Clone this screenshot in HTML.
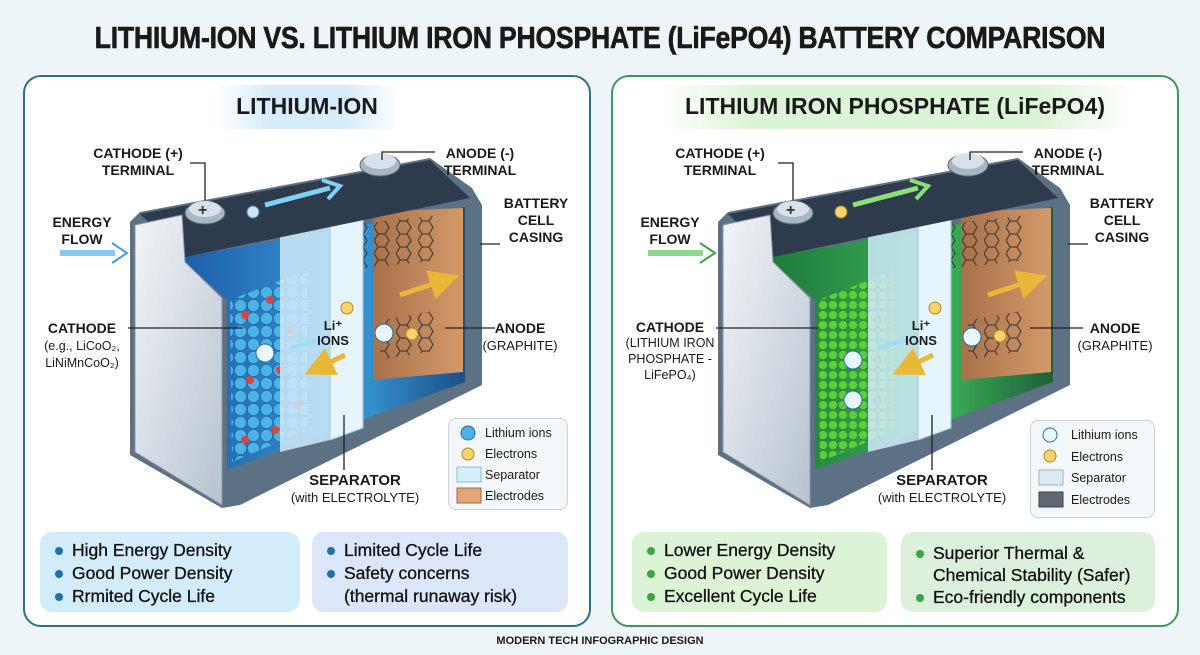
<!DOCTYPE html>
<html><head><meta charset="utf-8"><style>
*{margin:0;padding:0;box-sizing:border-box}
body{width:1200px;height:655px;background:#eef5f8;font-family:"Liberation Sans",sans-serif;position:relative;overflow:hidden;color:#1a1a1a}
.a{position:absolute;white-space:nowrap}
.t{font-weight:bold;font-size:14px;text-align:center;line-height:17px;transform:translateX(-50%)}
.panel{position:absolute;top:75px;width:568px;height:552px;border-radius:18px;background:#fff}
.box{position:absolute;top:532px;height:80px;border-radius:12px;padding:7px 0 0 14px;font-size:17.5px;line-height:23px;color:#111;-webkit-text-stroke:0.3px #111}
.box div{position:relative;padding-left:18px}
.box div:before{content:"";position:absolute;left:1px;top:8px;width:8px;height:8px;border-radius:50%}
.bl div:before{background:#1f6fa8}.gr div:before{background:#3aa543}
.box div.n:before{display:none}
.leg{position:absolute;border:1.5px solid #c9d3da;border-radius:8px;background:#f3f7f9;font-size:12.5px;line-height:21px;padding:4px 0 0 36px}
</style></head><body>
<div class="a" style="left:600px;top:20px;transform:translateX(-50%) scaleX(0.86);font-size:31px;font-weight:900;letter-spacing:-0.3px;-webkit-text-stroke:0.6px #111">LITHIUM-ION VS. LITHIUM IRON PHOSPHATE (LiFePO4) BATTERY COMPARISON</div>

<div class="panel" style="left:23px;border:2.5px solid #2e6f82"></div>
<div class="panel" style="left:611px;border:2.5px solid #3b9a55"></div>

<div class="a" style="left:215px;top:85px;width:185px;height:44px;background:linear-gradient(90deg,#fff,#d6ecfa 30%,#d6ecfa 70%,#fff)"></div>
<div class="a t" style="left:307px;top:93px;font-size:23px;line-height:26px;font-weight:bold">LITHIUM-ION</div>
<div class="a" style="left:660px;top:85px;width:470px;height:44px;background:linear-gradient(90deg,#fff,#dbf3d6 20%,#dbf3d6 80%,#fff)"></div>
<div class="a t" style="left:895px;top:93px;font-size:23px;line-height:26px">LITHIUM IRON PHOSPHATE (LiFePO4)</div>

<svg class="a" style="left:0;top:0" width="1200" height="655">
<defs>
<linearGradient id="fb" x1="0" y1="0" x2="1" y2="1"><stop offset="0" stop-color="#f2f5f8"/><stop offset="1" stop-color="#b8c3cf"/></linearGradient>
<linearGradient id="ib" x1="0" y1="0" x2="1" y2="0"><stop offset="0" stop-color="#1d5fa8"/><stop offset=".6" stop-color="#3a9ad8"/><stop offset="1" stop-color="#1b4f86"/></linearGradient>
<linearGradient id="ig" x1="0" y1="0" x2="1" y2="0"><stop offset="0" stop-color="#1d7a3a"/><stop offset=".6" stop-color="#3db35a"/><stop offset="1" stop-color="#1d5f3a"/></linearGradient>
<linearGradient id="br" x1="0" y1="0" x2="1" y2="0"><stop offset="0" stop-color="#a8714a"/><stop offset="1" stop-color="#d39a6a"/></linearGradient>
<pattern id="pb" width="13" height="13" patternUnits="userSpaceOnUse"><circle cx="6.5" cy="6.5" r="6" fill="#4db2e6" stroke="#1c6aa5" stroke-width=".6"/></pattern>
<pattern id="pg" width="10" height="10" patternUnits="userSpaceOnUse"><circle cx="5" cy="5" r="4.6" fill="#5ccd3c" stroke="#2a8a2a" stroke-width=".6"/></pattern>
<pattern id="hx" width="22" height="13" patternUnits="userSpaceOnUse"><path d="M0 6.5L4 0H11L15 6.5L11 13H4Z" fill="none" stroke="#333" stroke-width="1.3"/></pattern>
<marker id="ah" markerWidth="6" markerHeight="6" refX="3" refY="3" orient="auto"><path d="M0,0L6,3L0,6z" fill="#e9b838"/></marker>
</defs>
<g>
<polygon points="130,222 140,212 430,158 472,188 482,205 482,385 240,505 222,508 130,455" fill="#5d7184"/>
<polygon points="183,257 465,207 465,382 227,470 227,300 185,262" fill="url(#ib)"/>
<polygon points="373,212 463,208 463,372 373,380" fill="url(#br)"/>
<polygon points="350,225 440,215 440,260 350,270" fill="url(#hx)" opacity=".8"/>
<polygon points="380,320 440,310 440,350 380,360" fill="url(#hx)" opacity=".8"/>
<polygon points="230,300 307,270 307,430 232,462" fill="url(#pb)"/>
<g fill="#d9463f"><circle cx="245" cy="315" r="4"/><circle cx="270" cy="300" r="4"/><circle cx="290" cy="330" r="4"/><circle cx="250" cy="380" r="4"/><circle cx="280" cy="370" r="4"/><circle cx="298" cy="405" r="4"/><circle cx="245" cy="440" r="4"/><circle cx="275" cy="430" r="4"/></g>
<polygon points="280,235 330,225 330,440 280,452" fill="#cfeaf8" opacity=".85"/>
<polygon points="330,225 363,218 363,428 330,440" fill="#e6f4fb" stroke="#9ccbe6"/>
<polygon points="140,214 430,160 470,198 185,257" fill="#2d3b4d"/>
<polygon points="135,225 182,215 185,262 222,298 222,505 135,452" fill="url(#fb)" stroke="#8b98a6"/>
<ellipse cx="205" cy="213" rx="20" ry="11" fill="#a9b6c4" stroke="#55667a"/><ellipse cx="205" cy="209" rx="16" ry="8" fill="#d8e1ea"/>
<text x="198" y="215" font-size="16" font-weight="bold" fill="#333">+</text>
<ellipse cx="380" cy="165" rx="20" ry="11" fill="#a9b6c4" stroke="#55667a"/><ellipse cx="380" cy="161" rx="16" ry="8" fill="#d8e1ea"/>
<path d="M265 205 L330 188" stroke="#7fd1f5" stroke-width="5"/><path d="M322 180L340 186L328 199" fill="none" stroke="#7fd1f5" stroke-width="4"/>
<circle cx="253" cy="212" r="6" fill="#cfe7f5" stroke="#4a87b5"/>
</g>
<g transform="translate(588,0)">
<polygon points="130,222 140,212 430,158 472,188 482,205 482,385 240,505 222,508 130,455" fill="#5d7184"/>
<polygon points="183,257 465,207 465,382 227,470 227,300 185,262" fill="url(#ig)"/>
<polygon points="373,212 463,208 463,372 373,380" fill="url(#br)"/>
<polygon points="350,225 440,215 440,260 350,270" fill="url(#hx)" opacity=".8"/>
<polygon points="380,320 440,310 440,350 380,360" fill="url(#hx)" opacity=".8"/>
<polygon points="230,300 307,270 307,430 232,462" fill="url(#pg)"/>
<polygon points="280,235 330,225 330,440 280,452" fill="#cfeaf8" opacity=".85"/>
<polygon points="330,225 363,218 363,428 330,440" fill="#e6f4fb" stroke="#9ccbe6"/>
<polygon points="140,214 430,160 470,198 185,257" fill="#2d3b4d"/>
<polygon points="135,225 182,215 185,262 222,298 222,505 135,452" fill="url(#fb)" stroke="#8b98a6"/>
<ellipse cx="205" cy="213" rx="20" ry="11" fill="#a9b6c4" stroke="#55667a"/><ellipse cx="205" cy="209" rx="16" ry="8" fill="#d8e1ea"/>
<text x="198" y="215" font-size="16" font-weight="bold" fill="#333">+</text>
<ellipse cx="380" cy="165" rx="20" ry="11" fill="#a9b6c4" stroke="#55667a"/><ellipse cx="380" cy="161" rx="16" ry="8" fill="#d8e1ea"/>
<path d="M265 205 L330 188" stroke="#8be07a" stroke-width="5"/><path d="M322 180L340 186L328 199" fill="none" stroke="#8be07a" stroke-width="4"/>
<circle cx="253" cy="212" r="6" fill="#f6d46a" stroke="#b08a20"/>
</g>
<g stroke="#222" stroke-width="1.3" fill="none">
<path d="M190 163H205V200"/><path d="M435 152H382V160"/><path d="M480 244H500"/>
<path d="M128 328H243"/><path d="M445 328H495"/><path d="M344 415V470"/>
<path d="M778 163H793V200"/><path d="M1023 152H970V160"/><path d="M1068 244H1088"/>
<path d="M716 328H818"/><path d="M1030 328H1083"/><path d="M932 415V470"/>
</g>
<path d="M60 253H115" stroke="#8cc8f0" stroke-width="6"/><path d="M112 243L127 253L112 263" fill="none" stroke="#4a9ad8" stroke-width="2"/>
<path d="M648 253H703" stroke="#8fd88a" stroke-width="6"/><path d="M700 243L715 253L700 263" fill="none" stroke="#3aa543" stroke-width="2"/>
<path d="M400 295L445 280" stroke="#e9b838" stroke-width="5" marker-end="url(#ah)"/>
<path d="M345 355L318 368" stroke="#e9b838" stroke-width="5" marker-end="url(#ah)"/>
<path d="M988 295L1033 280" stroke="#e9b838" stroke-width="5" marker-end="url(#ah)"/>
<path d="M933 355L906 368" stroke="#e9b838" stroke-width="5" marker-end="url(#ah)"/>
<path d="M318 340L290 348" stroke="#9fdcf7" stroke-width="4"/><path d="M906 340L878 348" stroke="#9fdcf7" stroke-width="4"/>
<g fill="#e8f6fd" stroke="#2a6aa0">
<circle cx="265" cy="353" r="9"/><circle cx="384" cy="333" r="9"/>
<circle cx="853" cy="360" r="9"/><circle cx="853" cy="400" r="9"/><circle cx="972" cy="337" r="9"/>
</g>
<g fill="#f6d46a" stroke="#b08a20"><circle cx="347" cy="308" r="6"/><circle cx="935" cy="308" r="6"/><circle cx="412" cy="334" r="6"/><circle cx="1000" cy="336" r="6"/></g>
</svg>

<div class="a t" style="left:333px;top:318px;font-size:13px;line-height:15px">Li⁺<br>IONS</div>
<div class="a t" style="left:921px;top:318px;font-size:13px;line-height:15px">Li⁺<br>IONS</div>

<div class="a t" style="left:138px;top:145px">CATHODE (+)<br>TERMINAL</div>
<div class="a t" style="left:480px;top:145px">ANODE (-)<br>TERMINAL</div>
<div class="a t" style="left:82px;top:214px">ENERGY<br>FLOW</div>
<div class="a t" style="left:536px;top:195px">BATTERY<br>CELL<br>CASING</div>
<div class="a t" style="left:82px;top:320px">CATHODE<br><span style="font-weight:normal;font-size:12.5px;line-height:16px">(e.g., LiCoO₂,<br>LiNiMnCoO₂)</span></div>
<div class="a t" style="left:520px;top:320px">ANODE<br><span style="font-weight:normal;font-size:13px">(GRAPHITE)</span></div>
<div class="a t" style="left:355px;top:472px;font-size:15px">SEPARATOR<br><span style="font-weight:normal;font-size:13px">(with ELECTROLYTE)</span></div>

<div class="a t" style="left:720px;top:145px">CATHODE (+)<br>TERMINAL</div>
<div class="a t" style="left:1068px;top:145px">ANODE (-)<br>TERMINAL</div>
<div class="a t" style="left:670px;top:214px">ENERGY<br>FLOW</div>
<div class="a t" style="left:1122px;top:195px">BATTERY<br>CELL<br>CASING</div>
<div class="a t" style="left:670px;top:320px;line-height:15px">CATHODE<br><span style="font-weight:normal;font-size:12.5px">(LITHIUM IRON<br>PHOSPHATE -<br>LiFePO₄)</span></div>
<div class="a t" style="left:1115px;top:320px">ANODE<br><span style="font-weight:normal;font-size:13px">(GRAPHITE)</span></div>
<div class="a t" style="left:942px;top:472px;font-size:15px">SEPARATOR<br><span style="font-weight:normal;font-size:13px">(with ELECTROLYTE)</span></div>

<div class="leg" style="left:448px;top:418px;width:120px;height:92px">Lithium ions<br>Electrons<br>Separator<br>Electrodes</div>
<svg class="a" style="left:455px;top:422px" width="30" height="88">
<circle cx="13" cy="11" r="7" fill="#4db2e6" stroke="#1c6aa5"/><circle cx="13" cy="32" r="6" fill="#f6d46a" stroke="#b08a20"/>
<rect x="2" y="45" width="24" height="15" fill="#d5eef9" stroke="#8bbfd8"/><rect x="2" y="66" width="24" height="15" fill="#e0a677" stroke="#a06a3a"/></svg>
<div class="leg" style="left:1030px;top:420px;width:125px;height:98px;padding-left:40px;line-height:21.5px">Lithium ions<br>Electrons<br>Separator<br>Electrodes</div>
<svg class="a" style="left:1037px;top:424px" width="30" height="92">
<circle cx="13" cy="11" r="7" fill="#e8f6fd" stroke="#2a6aa0"/><circle cx="13" cy="32" r="6" fill="#f6d46a" stroke="#b08a20"/>
<rect x="2" y="46" width="24" height="15" fill="#dbe9f1" stroke="#9fb6c4"/><rect x="2" y="68" width="24" height="15" fill="#5f6770" stroke="#3a4048"/></svg>

<div class="box bl" style="left:40px;width:260px;background:#d3ecfa"><div>High Energy Density</div><div>Good Power Density</div><div>Rrmited Cycle Life</div></div>
<div class="box bl" style="left:312px;width:256px;background:#dbe6f8"><div>Limited Cycle Life</div><div>Safety concerns</div><div class="n">(thermal runaway risk)</div></div>
<div class="box gr" style="left:632px;width:255px;background:#ddf3d6"><div>Lower Energy Density</div><div>Good Power Density</div><div>Excellent Cycle Life</div></div>
<div class="box gr" style="left:901px;width:254px;background:#dcf1dc;padding-top:10px;line-height:22px"><div>Superior Thermal &amp;</div><div class="n">Chemical Stability (Safer)</div><div>Eco-friendly components</div></div>

<div class="a t" style="left:600px;top:633px;font-size:11px">MODERN TECH INFOGRAPHIC DESIGN</div>
</body></html>
